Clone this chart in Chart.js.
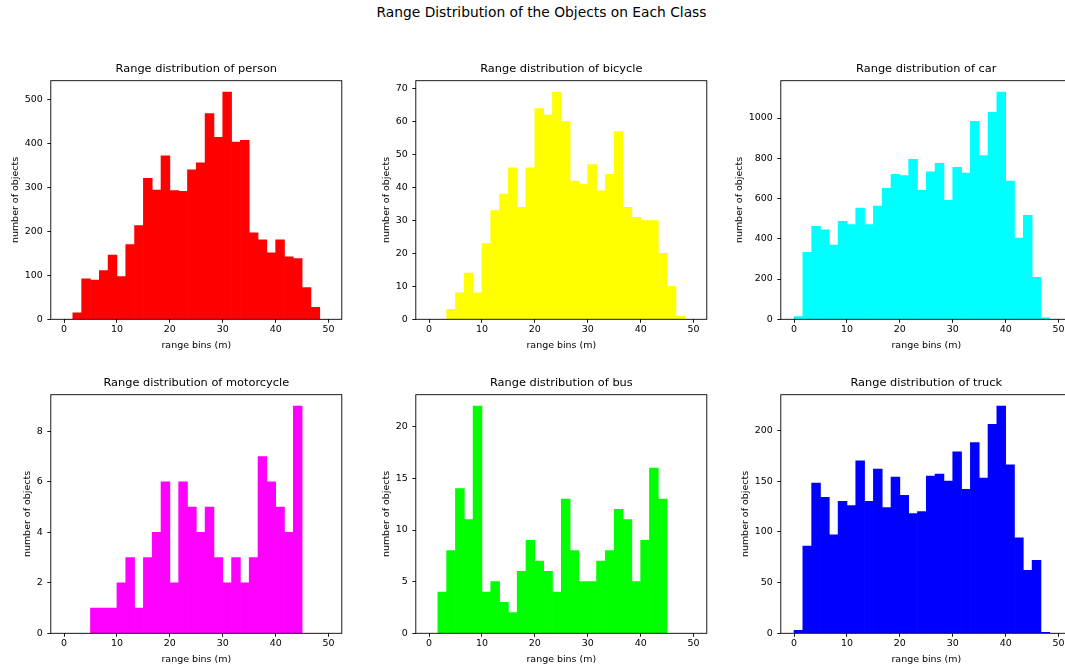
<!DOCTYPE html>
<html>
<head>
<meta charset="utf-8">
<script src="https://cdn.jsdelivr.net/npm/chart.js@4.4.1/dist/chart.umd.min.js"></script>
<style>
  html, body { margin: 0; padding: 0; background: #fff; overflow: hidden; width: 1065px; height: 668px; }
  #suptitle {
    position: absolute; left: 291.5px; width: 500px; top: 4px;
    line-height: 16px; text-align: center; white-space: nowrap;
    font-family: 'DejaVu Sans'; font-size: 13.8px; color: #000;
  }
  canvas { position: absolute; }
</style>
</head>
<body>
<div id="suptitle">Range Distribution of the Objects on Each Class</div>
<script>
// Histogram bins: 30 equal bins over 0–50 m
const BIN_COUNT = 30;
const RANGE_MAX_M = 50;

const classNames  = ['person', 'bicycle', 'car', 'motorcycle', 'bus', 'truck'];
const classColors = ['#ff0000', '#ffff00', '#00ffff', '#ff00ff', '#00ff00', '#0000ff'];

// Object counts per range bin
const personCounts     = [0, 15, 92, 89, 111, 146, 97, 170, 213, 321, 294, 372, 293, 291, 340, 356, 468, 414, 517, 403, 407, 197, 181, 151, 181, 142, 138, 72, 27, 0];
const bicycleCounts    = [0, 0, 3, 8, 14, 8, 23, 33, 38, 46, 34, 46, 64, 62, 69, 60, 42, 41, 47, 39, 44, 57, 34, 31, 30, 30, 20, 10, 1, 0];
const carCounts        = [13, 333, 462, 444, 369, 487, 470, 553, 470, 563, 651, 720, 714, 795, 641, 733, 775, 591, 755, 727, 983, 813, 1028, 1129, 687, 404, 517, 209, 7, 0];
const motorcycleCounts = [0, 0, 0, 1, 1, 1, 2, 3, 1, 3, 4, 6, 2, 6, 5, 4, 5, 3, 2, 3, 2, 3, 7, 6, 5, 4, 9, 0, 0, 0];
const busCounts        = [0, 4, 8, 14, 11, 22, 4, 5, 3, 2, 6, 9, 7, 6, 4, 13, 8, 5, 5, 7, 8, 12, 11, 5, 9, 16, 13, 0, 0, 0];
const truckCounts      = [3, 86, 148, 134, 97, 130, 126, 170, 130, 162, 124, 154, 136, 118, 120, 155, 157, 150, 179, 142, 188, 153, 206, 224, 166, 94, 62, 72, 1, 0];

const classCounts = [personCounts, bicycleCounts, carCounts, motorcycleCounts, busCounts, truckCounts];

// Tick spacing
const xTickStep  = 10;
const yTickSteps = [100, 10, 200, 2, 5, 50];

// Text
const subplotTitlePrefix = 'Range distribution of ';
const xAxisLabel = 'range bins (m)';
const yAxisLabel = 'number of objects';

// ---- layout of the 2x3 grid of axes ----
const FONT = 'DejaVu Sans';
const TITLE_SIZE = 11.36;
const LABEL_SIZE = 9.47;
const COL_LEFT = [50.8, 415.8, 780.8];
const ROW_TOP  = [80.7, 394.7];
const BOX_W = 291;
const BOX_H = 238.6;
const Y_AXIS_W = 50;
const X_AXIS_H = 36;
const TICK_LEN = 3.5;
const Y_TICK_PAD = 4.5;
const TITLE_PAD_BOTTOM = 5;
const INK = '#000';

Chart.defaults.font.family = FONT;
Chart.defaults.color = INK;

const measureCtx = document.createElement('canvas').getContext('2d');
measureCtx.font = LABEL_SIZE + 'px "' + FONT + '"';

// Closed frame round the plotting area
const frameBox = {
  id: 'frameBox',
  afterDatasetsDraw(chart) {
    const a = chart.chartArea;
    const ctx = chart.ctx;
    ctx.save();
    ctx.strokeStyle = INK;
    ctx.lineWidth = 0.9;
    ctx.strokeRect(a.left, a.top, a.right - a.left, a.bottom - a.top);
    ctx.restore();
  }
};

function binCenter(i) {
  return (i + 0.5) * RANGE_MAX_M / BIN_COUNT;
}

// Tick values: multiples of step from 0 up to the axis maximum
function stepTicks(from, to, step) {
  const out = [];
  for (let v = Math.ceil(from / step) * step; v <= to + 1e-9; v += step) out.push({ value: v });
  return out;
}

function drawHistogram(k) {
  const counts = classCounts[k];
  const col = k % 3, row = Math.floor(k / 3);
  const boxL = COL_LEFT[col], boxT = ROW_TOP[row];
  const boxB = boxT + BOX_H, boxR = boxL + BOX_W;

  const titleH = TITLE_SIZE * 1.2 + TITLE_PAD_BOTTOM;
  const cLeft = Math.floor(boxL - Y_AXIS_W - 4);
  const cTop = Math.floor(boxT - titleH - 4);
  const cRight = Math.ceil(boxR + 14);
  const cBottom = Math.ceil(boxB + X_AXIS_H + 2);

  const pad = {
    left: boxL - Y_AXIS_W - cLeft,
    top: boxT - titleH - cTop,
    right: cRight - boxR,
    bottom: cBottom - (boxB + X_AXIS_H)
  };

  const xMin = -RANGE_MAX_M * 0.05, xMax = RANGE_MAX_M * 1.05;
  const yMax = Math.max(...counts) * 1.05;
  const step = yTickSteps[k];
  let widest = 0;
  stepTicks(0, yMax, step).forEach(t => {
    widest = Math.max(widest, measureCtx.measureText(String(t.value)).width);
  });
  // y label sits just left of the widest tick label
  const yTitleCenter = TICK_LEN + Y_TICK_PAD + widest + 8.8;
  const yTitlePadTop = Math.max(0, Y_AXIS_W - yTitleCenter - LABEL_SIZE * 0.6);

  const canvas = document.createElement('canvas');
  canvas.width = cRight - cLeft;
  canvas.height = cBottom - cTop;
  canvas.style.left = cLeft + 'px';
  canvas.style.top = cTop + 'px';
  canvas.style.width = canvas.width + 'px';
  canvas.style.height = canvas.height + 'px';
  document.body.appendChild(canvas);

  const tickGrid = {
    display: true, drawOnChartArea: false, drawTicks: true,
    tickLength: TICK_LEN, tickWidth: 0.9, tickColor: INK, color: INK, offset: false
  };

  new Chart(canvas, {
    type: 'bar',
    data: {
      datasets: [{
        data: counts.map((c, i) => ({ x: binCenter(i), y: c })),
        backgroundColor: classColors[k],
        borderWidth: 0,
        barPercentage: 1,
        categoryPercentage: 1
      }]
    },
    options: {
      responsive: false,
      animation: false,
      events: [],
      layout: { padding: pad },
      plugins: {
        legend: { display: false },
        tooltip: { enabled: false },
        title: {
          display: true,
          fullSize: false,
          text: subplotTitlePrefix + classNames[k],
          color: INK,
          font: { size: TITLE_SIZE, weight: 'normal', family: FONT },
          padding: { top: 0, bottom: TITLE_PAD_BOTTOM }
        }
      },
      scales: {
        x: {
          type: 'linear',
          min: xMin,
          max: xMax,
          offset: false,
          grid: tickGrid,
          border: { display: false },
          ticks: {
            autoSkip: false, maxRotation: 0, padding: 1.5, color: INK,
            font: { size: LABEL_SIZE },
            callback: v => String(v)
          },
          afterBuildTicks(s) { s.ticks = stepTicks(xMin, xMax, xTickStep); },
          title: {
            display: true, text: xAxisLabel, color: INK,
            font: { size: LABEL_SIZE }, padding: { top: 0, bottom: 4 }
          },
          afterFit(s) { s.height = X_AXIS_H; }
        },
        y: {
          type: 'linear',
          min: 0,
          max: yMax,
          grid: tickGrid,
          border: { display: false },
          ticks: {
            autoSkip: false, padding: Y_TICK_PAD, color: INK,
            font: { size: LABEL_SIZE },
            callback: v => String(v)
          },
          afterBuildTicks(s) { s.ticks = stepTicks(0, yMax, step); },
          title: {
            display: true, text: yAxisLabel, color: INK,
            font: { size: LABEL_SIZE }, padding: { top: yTitlePadTop, bottom: 0 }
          },
          afterFit(s) { s.width = Y_AXIS_W; }
        }
      }
    },
    plugins: [frameBox]
  });
}

classNames.forEach((_, k) => drawHistogram(k));
</script>
</body>
</html>
